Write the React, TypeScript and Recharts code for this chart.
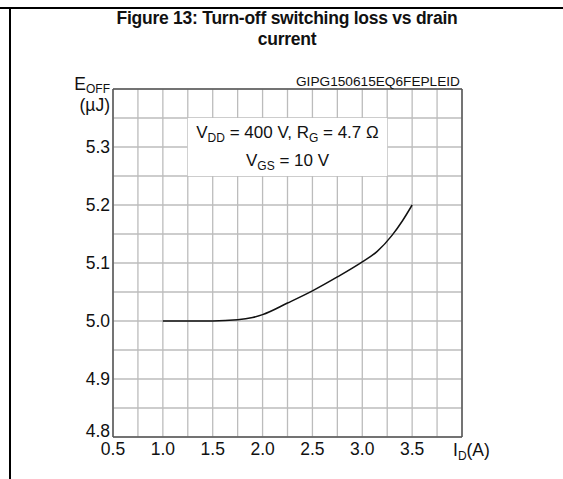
import React from 'react';
import { LineChart, Line, XAxis, YAxis, CartesianGrid, ReferenceLine, ReferenceArea } from 'recharts';

// drain current (A) and turn-off energy (µJ)
const drainCurrent = [1.0, 1.25, 1.5, 1.75, 1.9, 2.0, 2.25, 2.5, 2.75, 3.0, 3.15, 3.3, 3.4, 3.5];
const eOff = [5.0, 5.0, 5.0, 5.002, 5.006, 5.011, 5.031, 5.052, 5.076, 5.102, 5.12, 5.148, 5.172, 5.2];

const xTicks = [0.5, 0.75, 1.0, 1.25, 1.5, 1.75, 2.0, 2.25, 2.5, 2.75, 3.0, 3.25, 3.5, 3.75, 4.0];
const xTickLabels = ['0.5', '1.0', '1.5', '2.0', '2.5', '3.0', '3.5'];
const yTicks = [4.8, 4.85, 4.9, 4.95, 5.0, 5.05, 5.1, 5.15, 5.2, 5.25, 5.3, 5.35, 5.4];
const yTickLabels = ['4.8', '4.9', '5.0', '5.1', '5.2', '5.3'];

const chartData = drainCurrent.map((i, idx) => ({ i, e: eOff[idx] }));

const FONT = '"Liberation Sans", Arial, sans-serif';
const TICK_SIZE = 17.5;

const XTick = (props: any) => {
  const { x, y, payload } = props;
  const v = payload.value as number;
  if (Math.abs(v - 4.0) < 1e-6) {
    return (
      <text x={x - 9} y={y + 19} fontSize={TICK_SIZE} fontFamily={FONT} fill="#111" textAnchor="start">
        <tspan>I</tspan>
        <tspan fontSize={12} dy={4}>D</tspan>
        <tspan dy={-4}>(A)</tspan>
      </text>
    );
  }
  const label = v.toFixed(2);
  if (label.endsWith('0') && xTickLabels.includes(v.toFixed(1))) {
    return (
      <text x={x} y={y + 18} fontSize={TICK_SIZE} fontFamily={FONT} fill="#111" textAnchor="middle">
        {v.toFixed(1)}
      </text>
    );
  }
  return null;
};

const YTick = (props: any) => {
  const { x, y, payload } = props;
  const v = payload.value as number;
  if (Math.abs(v - 5.4) < 1e-6) {
    return (
      <g fontFamily={FONT} fill="#111">
        <text x={x - 3} y={y + 1} fontSize={TICK_SIZE} textAnchor="end">
          <tspan>E</tspan>
          <tspan fontSize={12} dy={3}>OFF</tspan>
        </text>
        <text x={x - 3} y={y + 22} fontSize={TICK_SIZE} textAnchor="end">(µJ)</text>
      </g>
    );
  }
  const label = v.toFixed(2);
  if (label.endsWith('0') && yTickLabels.includes(v.toFixed(1))) {
    const lowest = Math.abs(v - 4.8) < 1e-6;
    return (
      <text x={x - 3} y={lowest ? y : y + 6} fontSize={TICK_SIZE} fontFamily={FONT} fill="#111" textAnchor="end">
        {v.toFixed(1)}
      </text>
    );
  }
  return null;
};

const ConditionsLabel = (props: any) => {
  const { x, y, width } = props.viewBox;
  const cx = x + width / 2;
  return (
    <g fontFamily={FONT} fill="#111" fontSize={17}>
      <text x={cx} y={y + 20} textAnchor="middle">
        <tspan>V</tspan>
        <tspan fontSize={12} dy={4}>DD</tspan>
        <tspan dy={-4}> = 400 V, R</tspan>
        <tspan fontSize={12} dy={4}>G</tspan>
        <tspan dy={-4}> = 4.7 Ω</tspan>
      </text>
      <text x={cx} y={y + 48} textAnchor="middle">
        <tspan>V</tspan>
        <tspan fontSize={12} dy={4}>GS</tspan>
        <tspan dy={-4}> = 10 V</tspan>
      </text>
    </g>
  );
};

const CodeLabel = (props: any) => {
  const { x, y, width } = props.viewBox;
  return (
    <text
      x={x + width - 2}
      y={y - 3}
      fontSize={12.5}
      fontFamily={FONT}
      fill="#111"
      textAnchor="end"
      textLength={164}
      lengthAdjust="spacingAndGlyphs"
    >
      GIPG150615EQ6FEPLEID
    </text>
  );
};

export default function App() {
  return (
    <div style={{ position: 'absolute', left: 0, top: 0, width: 563, height: 479, background: '#fff', fontFamily: FONT }}>
      <div style={{ position: 'absolute', left: 0, top: 7, width: 563, height: 2, background: '#000' }} />
      <div style={{ position: 'absolute', left: 9, top: 7, width: 2, height: 472, background: '#000' }} />
      <div
        style={{
          position: 'absolute',
          left: 11,
          top: 8,
          width: 552,
          textAlign: 'center',
          fontWeight: 'bold',
          fontSize: 17.5,
          letterSpacing: -0.25,
          lineHeight: '21px',
          color: '#111',
        }}
      >
        Figure 13: Turn-off switching loss vs drain
        <br />
        current
      </div>
      <div style={{ position: 'absolute', left: 0, top: 0 }}>
        <LineChart width={563} height={479} data={chartData} margin={{ top: 89, right: 101, bottom: 12, left: 53 }}>
          <CartesianGrid stroke="#bcbcbc" strokeWidth={1.3} />
          <ReferenceArea x1={1.25} x2={3.25} y1={5.25} y2={5.35} fill="#fff" fillOpacity={1} stroke="none" label={<ConditionsLabel />} />
          <XAxis
            dataKey="i"
            type="number"
            domain={[0.5, 4.0]}
            ticks={xTicks}
            interval={0}
            tickLine={false}
            tickSize={0}
            tickMargin={0}
            height={30}
            axisLine={{ stroke: '#555', strokeWidth: 1.5 }}
            tick={<XTick />}
          />
          <YAxis
            type="number"
            domain={[4.8, 5.4]}
            ticks={yTicks}
            interval={0}
            tickLine={false}
            tickSize={0}
            tickMargin={0}
            width={60}
            axisLine={{ stroke: '#555', strokeWidth: 1.5 }}
            tick={<YTick />}
          />
          <ReferenceLine y={5.4} stroke="#555" strokeWidth={1.5} label={<CodeLabel />} />
          <ReferenceLine x={4.0} stroke="#555" strokeWidth={1.5} />
          <Line type="monotone" dataKey="e" stroke="#111" strokeWidth={1.5} dot={false} isAnimationActive={false} />
        </LineChart>
      </div>
    </div>
  );
}
